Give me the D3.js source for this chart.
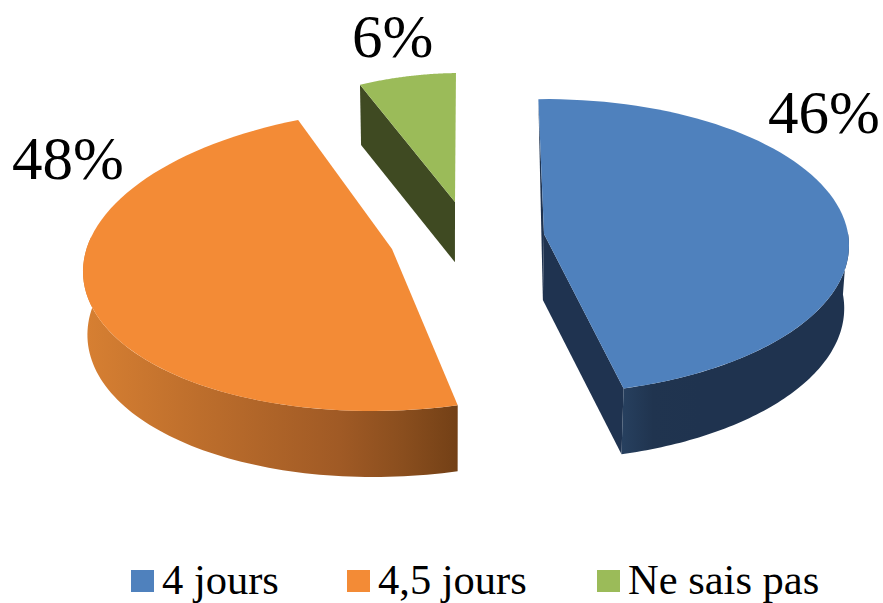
<html>

<head>
    <meta charset="utf-8">
    <title>4 jours / 4,5 jours</title>
    <style>
        html, body { margin: 0; padding: 0; background: #fff; overflow: hidden; }
        text { font-family: "Liberation Serif", serif; fill: #000; }
    </style>
</head>

<body>
    <script src="https://cdn.jsdelivr.net/npm/d3@7"></script>
    <script>
        const categories = ["4 jours", "4,5 jours", "Ne sais pas"];
        const percents = [46, 48, 6];

        const width = 883, height = 603;

        // one entry per slice: where the exploded slice sits and how it looks
        const layout = [
            { cx: 543, cy: 246.5, rx: 306, ry: 147.4, shear: 2.4, apex: [544, 234], top: "#4f81bd", cut: "#1f3350", wall: "url(#wallBlue)", label: [768, 133], swatch: 131, legend: 162 },
            { cx: 397, cy: 259.5, rx: 313, ry: 151.5, shear: 25, apex: [392, 249], top: "#f38b36", cut: null, wall: "url(#wallOrange)", label: [12, 179], swatch: 347, legend: 378 },
            { cx: 462, cy: 223, rx: 262, ry: 150, shear: 0, apex: [455, 202], top: "#9bbb59", cut: "#3f4a22", wall: null, label: [352, 57], swatch: 597, legend: 628 }
        ];

        const svg = d3.select("body").append("svg")
            .attr("width", width)
            .attr("height", height);

        const defs = svg.append("defs");

        function addGradient(id, x1, x2, stops) {
            const g = defs.append("linearGradient")
                .attr("id", id)
                .attr("gradientUnits", "userSpaceOnUse")
                .attr("x1", x1).attr("x2", x2)
                .attr("y1", 0).attr("y2", 0);
            stops.forEach(s => g.append("stop").attr("offset", s[0]).attr("stop-color", s[1]));
        }
        addGradient("wallOrange", 88, 458, [[0, "#d67f32"], [0.3, "#bd6e2c"], [0.68, "#a05a25"], [0.85, "#8a4e1e"], [1, "#734016"]]);
        addGradient("wallBlue", 622, 700, [[0, "#27405f"], [0.4, "#20344f"], [1, "#1f334f"]]);

        const pie = d3.pie().sort(null).startAngle(-0.023).endAngle(2 * Math.PI - 0.023);
        const slices = pie(percents);

        // rim of the top face, a circle seen from above
        function rim(s, a) {
            return [s.cx + s.rx * Math.sin(a) + s.shear * Math.cos(a), s.cy - s.ry * Math.cos(a)];
        }

        // same point at the foot of the wall: leans to the middle, the front is a bit deeper
        function foot(p, a) {
            return [450 + (p[0] - 450) * 0.988, p[1] + 63 - 3 * Math.cos(a)];
        }

        const line = d3.line();

        function rimPoints(s, a0, a1) {
            const n = 80;
            return d3.range(n + 1).map(i => rim(s, a0 + (a1 - a0) * i / n));
        }

        // outer wall between two angles
        function wallPath(s, a0, a1) {
            const upper = rimPoints(s, a0, a1);
            const lower = upper.map((p, i) => foot(p, a0 + (a1 - a0) * i / 80)).reverse();
            return line(upper.concat(lower)) + "Z";
        }

        function cutPath(s, a) {
            const p = rim(s, a);
            return line([s.apex, p, foot(p, a), foot(s.apex, a)]) + "Z";
        }

        const g = svg.append("g");

        // blue
        const blue = slices[0], blueL = layout[0];
        g.append("path").attr("d", line([rim(blueL, blue.startAngle), blueL.apex, foot(blueL.apex, Math.PI)]) + "Z").attr("fill", blueL.cut);
        g.append("path").attr("d", cutPath(blueL, blue.endAngle)).attr("fill", blueL.cut);
        g.append("path").attr("d", wallPath(blueL, Math.PI / 2 - 0.1, blue.endAngle)).attr("fill", blueL.wall);

        // orange
        const orange = slices[1], orangeL = layout[1];
        g.append("path").attr("d", wallPath(orangeL, orange.startAngle, 1.5 * Math.PI + 0.15)).attr("fill", orangeL.wall);

        // green
        const green = slices[2], greenL = layout[2];
        g.append("path").attr("d", cutPath(greenL, green.startAngle)).attr("fill", greenL.cut);

        // top faces
        g.selectAll(".top")
            .data(slices)
            .enter()
            .append("path")
            .attr("class", "top")
            .attr("fill", (d, i) => layout[i].top)
            .attr("d", (d, i) => line([layout[i].apex].concat(rimPoints(layout[i], d.startAngle, d.endAngle))) + "Z");

        // percent labels
        svg.selectAll(".pct")
            .data(percents)
            .enter()
            .append("text")
            .attr("class", "pct")
            .attr("x", (d, i) => layout[i].label[0])
            .attr("y", (d, i) => layout[i].label[1])
            .attr("font-size", 61)
            .text(d => d + "%");

        // legend
        svg.selectAll(".swatch")
            .data(categories)
            .enter()
            .append("rect")
            .attr("class", "swatch")
            .attr("x", (d, i) => layout[i].swatch)
            .attr("y", 570)
            .attr("width", 23)
            .attr("height", 22)
            .attr("fill", (d, i) => layout[i].top);

        svg.selectAll(".legend")
            .data(categories)
            .enter()
            .append("text")
            .attr("class", "legend")
            .attr("x", (d, i) => layout[i].legend)
            .attr("y", 593.5)
            .attr("font-size", 42.5)
            .text(d => d);
    </script>
</body>

</html>
